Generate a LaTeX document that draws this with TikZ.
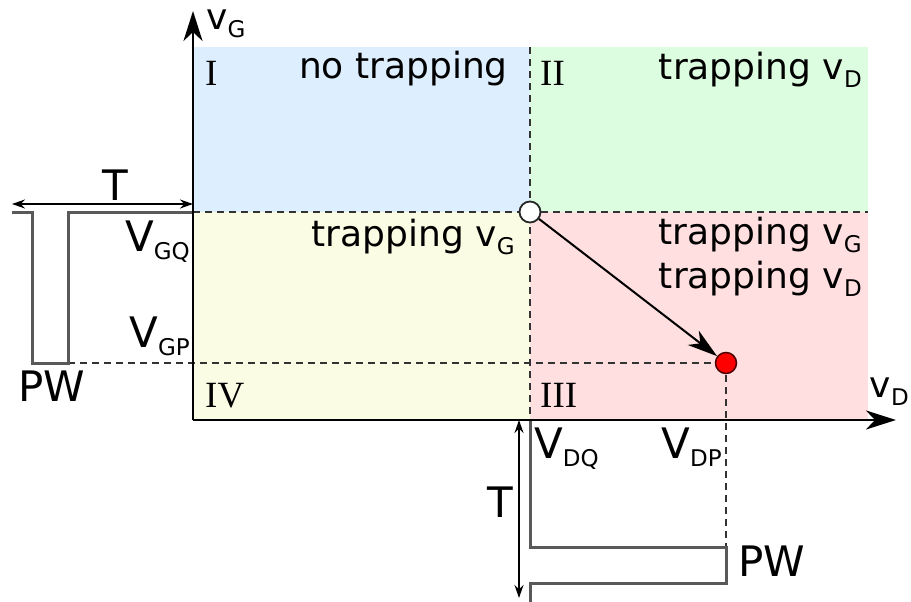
\documentclass[tikz,border=0pt]{standalone}
\usepackage{fontspec}
\setmainfont{DejaVu Sans}
\newfontfamily\romfont{Liberation Serif}
\usetikzlibrary{arrows.meta}
\newcommand{\lowsub}[1]{\raisebox{-8pt}{\fontsize{23pt}{23pt}\selectfont #1}}
\definecolor{blueq}{HTML}{DDEEFF}
\definecolor{greenq}{HTML}{DDFDE0}
\definecolor{yellowq}{HTML}{FAFDE3}
\definecolor{pinkq}{HTML}{FFDFDF}
\begin{document}
\begin{tikzpicture}[x=1pt,y=-1pt,
  maintext/.style={font=\fontsize{36pt}{40pt}\selectfont, inner sep=0pt},
  vlabel/.style={font=\fontsize{42pt}{44pt}\selectfont, inner sep=0pt},
  roman/.style={font=\romfont\fontsize{37pt}{38pt}\selectfont, inner sep=0pt},
  axis/.style={line width=2.8pt, -{Stealth[length=30pt,width=19pt,inset=9pt]}},
  dashline/.style={dash pattern=on 7pt off 5pt, line width=2pt, black!80},
  pulse/.style={line width=3pt, black!65, line join=miter},
  span/.style={line width=1.8pt, {Stealth[length=13pt,width=9pt]}-{Stealth[length=13pt,width=9pt]}}
]
\useasboundingbox (0,0) rectangle (911,602);
% quadrants
\fill[blueq] (193,47) rectangle (530,212);
\fill[greenq] (530,47) rectangle (868,212);
\fill[yellowq] (193,212) rectangle (530,420);
\fill[pinkq] (530,212) rectangle (868,420);
% coordinates
\coordinate (O) at (193,420);
\coordinate (ytip) at (193,11);
\coordinate (xtip) at (896,420);
\coordinate (qleft) at (193,212);
\coordinate (qright) at (868,212);
\coordinate (qtop) at (530,47);
\coordinate (qbot) at (530,420);
\coordinate (pleft) at (68,363);
\coordinate (pbot) at (726,547);
% dashed lines
\draw[dashline] (qleft) -- (qright);
\draw[dashline] (qtop) -- (qbot);
\draw[dashline] (pleft) -- (726,363);
\draw[dashline] (726,363) -- (pbot);
% left pulse
\draw[pulse] (12,212) -- (32,212) -- (32,363) -- (pleft) -- (68,212) -- (qleft);
% bottom pulse
\draw[pulse] (qbot) -- (530,547) -- (pbot) -- (726,583) -- (530,583) -- (530,602);
% axes
\draw[axis] (O) -- (ytip);
\draw[axis] (O) -- (xtip);
% spans
\coordinate (tl) at (12,204);
\coordinate (tr) at (193,204);
\draw[span] (tl) -- (tr);
\coordinate (tt) at (519,420);
\coordinate (tb) at (519,598);
\draw[span] (tt) -- (tb);
% points
\node[circle, draw=black!85, line width=1.8pt, fill=white, minimum size=21pt, inner sep=0pt] (Q) at (530,212) {};
\node[circle, draw=black!70!red, line width=1.5pt, fill=red, minimum size=21pt, inner sep=0pt] (P) at (726,363) {};
\draw[line width=2pt, -{Stealth[length=30pt,width=18pt,inset=9pt]}] (Q) -- (P);
% texts
\node[maintext, anchor=base east] (nt) at (508,78) {no trapping};
\node[maintext, anchor=base east] (tvd1) at (862,80) {trapping v\lowsub{D}};
\node[maintext, anchor=base east] (tvg1) at (515,246) {trapping v\lowsub{G}};
\node[maintext, anchor=base east] (tvg2) at (862,244) {trapping v\lowsub{G}};
\node[maintext, anchor=base east] (tvd2) at (862,288) {trapping v\lowsub{D}};
\node[roman, anchor=base west] (r1) at (205,85) {I};
\node[roman, anchor=base west] (r2) at (540,85) {II};
\node[roman, anchor=base west] (r4) at (205,407) {IV};
\node[roman, anchor=base west] (r3) at (540,407) {III};
\node[vlabel, anchor=base east] (vgq) at (190,251) {V\lowsub{GQ}};
\node[vlabel, anchor=base east] (vgp) at (190,347) {V\lowsub{GP}};
\node[vlabel, anchor=base west] (pw1) at (18,401) {PW};
\node[vlabel, anchor=base west] (vdq) at (534,458) {V\lowsub{DQ}};
\node[vlabel, anchor=base east] (vdp) at (722,458) {V\lowsub{DP}};
\node[vlabel, anchor=base west] (pw2) at (738,576) {PW};
\node[vlabel, anchor=base] (t2) at (500,517) {T};
\node[vlabel, anchor=base] (t1) at (115,200) {T};
\node[maintext, anchor=base west] (vg) at (206,30) {v\lowsub{G}};
\node[maintext, anchor=base east] (vd) at (909,397) {v\lowsub{D}};
\end{tikzpicture}
\end{document}
